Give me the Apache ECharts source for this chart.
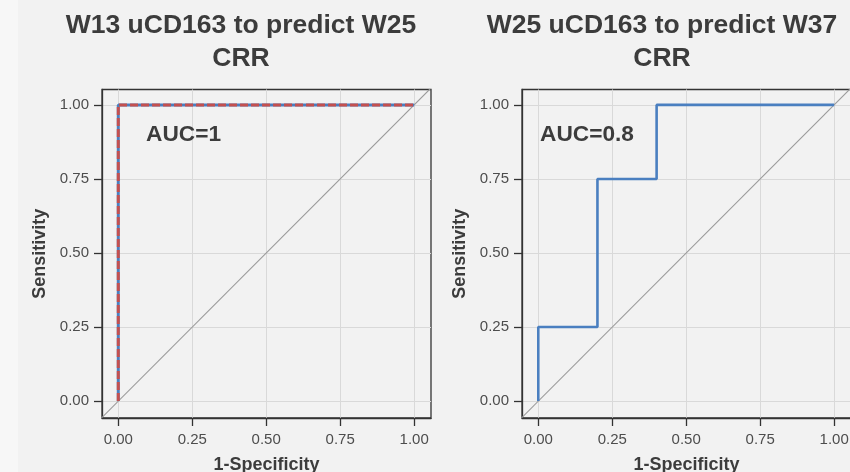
<!DOCTYPE html>
<html>
<head>
<meta charset="utf-8">
<script src="https://cdn.jsdelivr.net/npm/echarts@6/dist/echarts.min.js"></script>
<style>
  html, body { margin: 0; padding: 0; background: #f2f2f2; }
  #main { width: 850px; height: 472px; }
</style>
</head>
<body>
<div id="main"></div>
<script>
// ROC curves, two panels
var tickValues = [0, 0.25, 0.5, 0.75, 1];
var diagonal = [-0.1, 1.1];

// W13 -> W25
var fprW13 = [0, 0, 1];
var tprW13 = [0, 1, 1];
// W25 -> W37
var fprW25 = [0, 0, 0.2, 0.2, 0.4, 0.4, 1];
var tprW25 = [0, 0.25, 0.25, 0.75, 0.75, 1, 1];

var titles = ['W13 uCD163 to predict W25\nCRR', 'W25 uCD163 to predict W37\nCRR'];
var aucTexts = ['AUC=1', 'AUC=0.8'];

var FONT = '"Liberation Sans", Arial, Helvetica, sans-serif';
var blue = '#4a7fc0';
var red = '#c4504f';

function pairs(xs, ys) {
    return xs.map(function(x, i) { return [x, ys[i]]; });
}

function makeX(i) {
    return {
        type: 'value', gridIndex: i, min: -0.055, max: 1.057,
        name: '1-Specificity', nameLocation: 'middle', nameGap: 38,
        nameTextStyle: {fontFamily: FONT, fontWeight: 'bold', fontSize: 18, color: '#3c3c3c'},
        axisLine: {show: true, onZero: false, lineStyle: {color: '#333', width: 1.3}},
        axisTick: {show: true, length: 8, customValues: tickValues, lineStyle: {color: '#333', width: 1.3}},
        axisLabel: {customValues: tickValues, margin: 14, fontFamily: FONT, fontSize: 15, color: '#4d4d4d',
            formatter: function(v) { return v.toFixed(2); }},
        splitLine: {show: true, lineStyle: {color: '#d9d9d9', width: 1}}
    };
}

function makeY(i) {
    return {
        type: 'value', gridIndex: i, min: -0.057, max: 1.052,
        name: 'Sensitivity', nameLocation: 'middle', nameGap: 53, nameRotate: 90,
        nameTextStyle: {fontFamily: FONT, fontWeight: 'bold', fontSize: 18, color: '#3c3c3c'},
        axisLine: {show: true, onZero: false, lineStyle: {color: '#333', width: 1.3}},
        axisTick: {show: true, length: 8, customValues: tickValues, lineStyle: {color: '#333', width: 1.3}},
        axisLabel: {customValues: tickValues, margin: 13, fontFamily: FONT, fontSize: 15, color: '#4d4d4d',
            formatter: function(v) { return v.toFixed(2); }},
        splitLine: {show: true, lineStyle: {color: '#d9d9d9', width: 1}}
    };
}

function diagSeries(i) {
    return {
        type: 'line', xAxisIndex: i, yAxisIndex: i, data: pairs(diagonal, diagonal),
        symbol: 'none', silent: true, clip: true,
        lineStyle: {color: '#999', width: 1.1}, z: 1
    };
}

var myChart = echarts.init(document.getElementById('main'));

myChart.setOption({
    backgroundColor: '#f2f2f2',
    animation: false,
    grid: [
        {left: 102, top: 89.5, width: 329, height: 328.5, outerBoundsMode: 'none', containLabel: false,
            show: true, borderColor: '#333', borderWidth: 1.3, backgroundColor: 'transparent'},
        {left: 522, top: 89.5, width: 329, height: 328.5, outerBoundsMode: 'none', containLabel: false,
            show: true, borderColor: '#333', borderWidth: 1.3, backgroundColor: 'transparent'}
    ],
    xAxis: [makeX(0), makeX(1)],
    yAxis: [makeY(0), makeY(1)],
    graphic: [
        {type: 'rect', shape: {x: 0, y: 0, width: 18, height: 472}, style: {fill: '#f7f7f7'}, z: -10, silent: true},
        {type: 'text', x: 241, y: 9, z: 100, style: {text: titles[0], fontFamily: FONT, fontWeight: 'bold', fontSize: 26.5,
            lineHeight: 33, fill: '#3c3c3c', textAlign: 'center', textVerticalAlign: 'top'}},
        {type: 'text', x: 662, y: 9, z: 100, style: {text: titles[1], fontFamily: FONT, fontWeight: 'bold', fontSize: 26.5,
            lineHeight: 33, fill: '#3c3c3c', textAlign: 'center', textVerticalAlign: 'top'}},
        {type: 'text', x: 146, y: 135, z: 100, style: {text: aucTexts[0], fontFamily: FONT, fontWeight: 'bold', fontSize: 22.7,
            fill: '#3c3c3c', textAlign: 'left', textVerticalAlign: 'middle'}},
        {type: 'text', x: 540, y: 135, z: 100, style: {text: aucTexts[1], fontFamily: FONT, fontWeight: 'bold', fontSize: 22.7,
            fill: '#3c3c3c', textAlign: 'left', textVerticalAlign: 'middle'}}
    ],
    series: [
        diagSeries(0),
        diagSeries(1),
        {
            name: 'W13 blue', type: 'line', xAxisIndex: 0, yAxisIndex: 0, data: pairs(fprW13, tprW13),
            symbol: 'none', lineStyle: {color: blue, width: 3}, z: 3
        },
        {
            name: 'W13 red', type: 'line', xAxisIndex: 0, yAxisIndex: 0, data: pairs(fprW13, tprW13),
            symbol: 'none', lineStyle: {color: red, width: 3, type: [8, 3]}, z: 4
        },
        {
            name: 'W25', type: 'line', xAxisIndex: 1, yAxisIndex: 1, data: pairs(fprW25, tprW25),
            symbol: 'none', lineStyle: {color: blue, width: 2.6}, z: 3
        }
    ]
});
</script>
</body>
</html>
